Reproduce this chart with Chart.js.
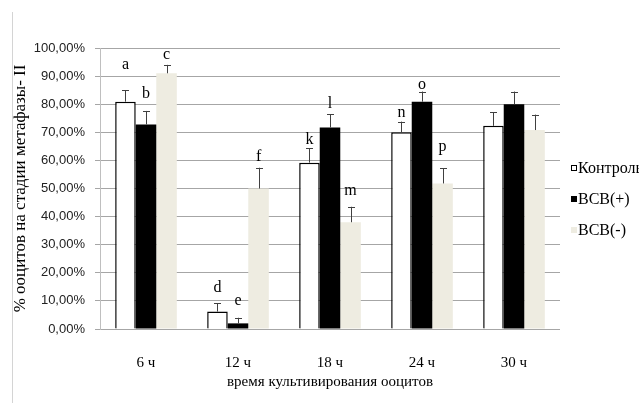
<!DOCTYPE html>
<html>
<head>
<meta charset="utf-8">
<script src="https://cdn.jsdelivr.net/npm/chart.js@4.4.0/dist/chart.umd.min.js"></script>
<style>
html,body{margin:0;padding:0;background:#fff;}
canvas{display:block;}
</style>
</head>
<body>
<canvas id="c" width="639" height="403"></canvas>
<script>
// ---- data ----
const categories = ['6 ч', '12 ч', '18 ч', '24 ч', '30 ч'];
const seriesNames = ['Контроль', 'ВСВ(+)', 'ВСВ(-)'];
const controlValues = [80.9, 6.2, 59.2, 70.0, 72.3];
const plusValues    = [72.8, 2.0, 71.7, 80.9, 80.0];
const minusValues   = [91.0, 50.0, 38.0, 51.8, 70.8];
const controlErr = [4.1, 2.9, 5.1, 3.8, 4.8];
const plusErr    = [4.8, 2.0, 4.8, 3.6, 4.5];
const minusErr   = [3.0, 7.4, 5.5, 5.4, 5.5];
const controlLetters = ['a', 'd', 'k', 'n', ''];
const plusLetters    = ['b', 'e', 'l', 'o', ''];
const minusLetters   = ['c', 'f', 'm', 'p', ''];
const controlLetterY = [94.0, 14.8, 67.3, 77.1, null];
const plusLetterY    = [83.6, 10.0, 80.3, 86.8, null];
const minusLetterY   = [97.5, 61.3, 49.2, 64.9, null];
const yTicks = [0, 10, 20, 30, 40, 50, 60, 70, 80, 90, 100];

const errs = [controlErr, plusErr, minusErr];
const letters = [controlLetters, plusLetters, minusLetters];
const letterY = [controlLetterY, plusLetterY, minusLetterY];

const SERIF = '"Liberation Serif", "Times New Roman", serif';
const SANS = '"Liberation Sans", Arial, sans-serif';

const extras = {
  id: 'extras',
  afterDatasetsDraw(chart) {
    const ctx = chart.ctx;
    const ys = chart.scales.y;
    ctx.save();
    chart.data.datasets.forEach((ds, di) => {
      const meta = chart.getDatasetMeta(di);
      meta.data.forEach((bar, i) => {
        const v = ds.data[i];
        const top = ys.getPixelForValue(v + errs[di][i]);
        const x = Math.round(bar.x) + 0.5;
        ctx.strokeStyle = '#404040';
        ctx.lineWidth = 1;
        ctx.beginPath();
        ctx.moveTo(x, bar.y);
        ctx.lineTo(x, top);
        ctx.moveTo(x - 3.5, Math.round(top) + 0.5);
        ctx.lineTo(x + 3.5, Math.round(top) + 0.5);
        ctx.stroke();
        const L = letters[di][i];
        if (L) {
          ctx.fillStyle = '#000';
          ctx.font = '16px ' + SERIF;
          ctx.textAlign = 'center';
          ctx.textBaseline = 'middle';
          ctx.fillText(L, bar.x, ys.getPixelForValue(letterY[di][i]));
        }
      });
    });
    ctx.restore();
  },
  afterDraw(chart) {
    const ctx = chart.ctx;
    ctx.save();
    // outer frame fragment
    ctx.strokeStyle = '#d4d4d4';
    ctx.lineWidth = 1;
    ctx.beginPath();
    ctx.moveTo(12.5, 12);
    ctx.lineTo(12.5, 403);
    ctx.stroke();
    // legend
    const legY = [168, 199, 230];
    chart.data.datasets.forEach((ds, di) => {
      const y = legY[di];
      ctx.fillStyle = ds.backgroundColor;
      ctx.fillRect(571, y - 3, 6, 6);
      if (di === 0) {
        ctx.strokeStyle = '#000';
        ctx.lineWidth = 1;
        ctx.strokeRect(571.5, y - 2.5, 5, 5);
      }
      ctx.fillStyle = '#000';
      ctx.font = '16px ' + SERIF;
      ctx.textAlign = 'left';
      ctx.textBaseline = 'middle';
      ctx.fillText(ds.label, 578, y + 1);
    });
    ctx.restore();
  }
};

new Chart(document.getElementById('c'), {
  type: 'bar',
  data: {
    labels: categories,
    datasets: [
      { label: seriesNames[0], data: controlValues, backgroundColor: '#ffffff', borderColor: '#000000', borderWidth: 1.5 },
      { label: seriesNames[1], data: plusValues, backgroundColor: '#000000', borderWidth: 0 },
      { label: seriesNames[2], data: minusValues, backgroundColor: '#EEECE1', borderWidth: 0 }
    ]
  },
  options: {
    responsive: false,
    animation: false,
    categoryPercentage: 0.67,
    barPercentage: 1.0,
    layout: { padding: { top: 48, right: 79, bottom: 0, left: 0 } },
    plugins: { legend: { display: false }, tooltip: { enabled: false } },
    scales: {
      x: {
        grid: { display: false, drawTicks: false },
        border: { display: false },
        ticks: { color: '#000', font: { family: SERIF, size: 15 }, padding: 25 },
        title: { display: true, text: 'время культивирования ооцитов', color: '#000', font: { family: SERIF, size: 15 }, padding: { top: 0, bottom: 12 } },
        afterFit(s) { s.height = 74; }
      },
      y: {
        min: 0, max: 100,
        afterBuildTicks(s) { s.ticks = yTicks.map(v => ({ value: v })); },
        ticks: {
          color: '#222',
          font: { family: SANS, size: 13 },
          padding: 10,
          callback: v => v.toFixed(2).replace('.', ',') + '%'
        },
        grid: { color: '#a6a6a6', tickLength: 5, lineWidth: 1 },
        border: { color: '#bfbfbf' },
        title: { display: true, text: '% ооцитов на стадии метафазы- II', color: '#000', font: { family: SERIF, size: 17 }, padding: { top: 10, bottom: 0 } },
        afterFit(s) { s.width = 100; }
      }
    }
  },
  plugins: [extras]
});
</script>
</body>
</html>
